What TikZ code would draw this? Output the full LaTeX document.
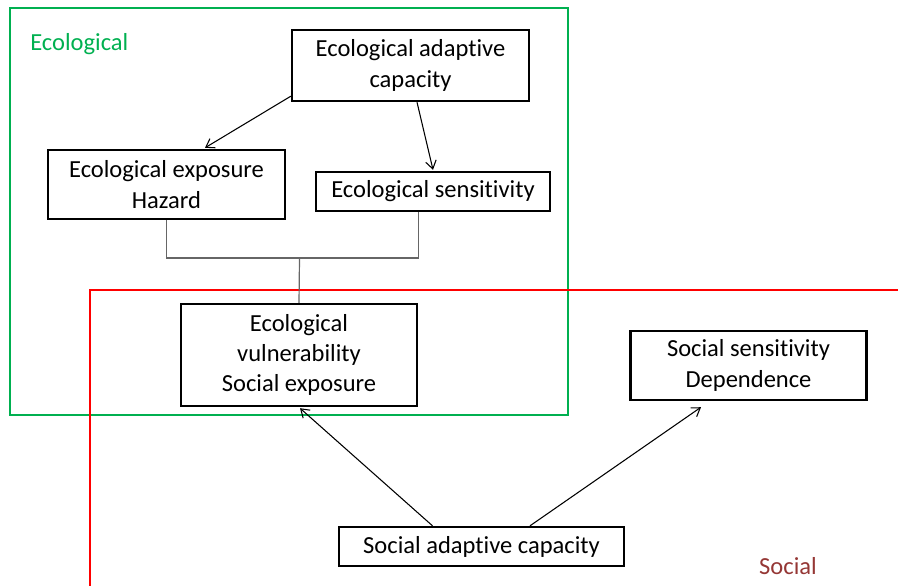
\documentclass[tikz,border=0pt]{standalone}
\usepackage{fontspec}
\setmainfont{Carlito}[Ligatures=NoCommon]
\usetikzlibrary{arrows.meta}
\definecolor{ecogreen}{HTML}{00B050}
\definecolor{socred}{HTML}{953735}
\begin{document}
\begin{tikzpicture}[>={Straight Barb[length=6pt,width=8pt]},x=0.75pt,y=-0.75pt,font=\fontsize{18.4}{22.8}\selectfont,
	hop/.style={draw,line width=1.8pt,align=center,inner sep=0pt},
	mui/.style={->,line width=0.8pt},
	noi/.style={black!60,line width=0.9pt}]
			\def\px{0.75pt}
			\useasboundingbox (0,0) rectangle (898,586);
			%Hai vùng:
			\draw[ecogreen,line width=1.6pt] (10,8) rectangle (568,415);
			\draw[red,line width=1.6pt] (898,290) -- (90,290) -- (90,586);
			\node[ecogreen,anchor=west,inner sep=0pt] (ECO) at (30,44) {Ecological};
			\node[socred,inner sep=0pt] (SOC) at (788,566) {Social};
			%Các hộp:
			\node[hop,minimum width=237*\px,minimum height=71*\px] (EAC) at (410.5,65.5) {Ecological adaptive\\capacity};
			\node[hop,minimum width=237*\px,minimum height=69*\px] (EEX) at (166.5,184.5) {Ecological exposure\\Hazard};
			\node[hop,minimum width=234*\px,minimum height=39*\px] (ESE) at (433,191.5) {Ecological sensitivity};
			\node[hop,minimum width=236*\px,minimum height=102*\px] (EVU) at (299,355) {Ecological\\vulnerability\\Social exposure};
			\node[hop,minimum width=236*\px,minimum height=69*\px] (SSE) at (748.5,365.5) {Social sensitivity\\Dependence};
			\node[hop,minimum width=285*\px,minimum height=39*\px] (SAC) at (481.5,546.5) {Social adaptive capacity};
			%Mũi tên:
			\draw[mui] ([yshift=6*\px]EAC.south west) -- ([xshift=38.5*\px,yshift=1*\px]EEX.north);
			\draw[mui] ([xshift=6.5*\px]EAC.south) -- ([yshift=1*\px]ESE.north);
			\draw[mui] ([xshift=-49*\px]SAC.north) -- ([xshift=1*\px,yshift=-1*\px]EVU.south);
			\draw[mui] ([xshift=48.5*\px]SAC.north) -- ([xshift=-47.5*\px,yshift=-6*\px]SSE.south);
			%Đường nối:
			\coordinate (J) at (299.5,258);
			\draw[noi] (EEX.south) |- (J) -| ([xshift=-14.5*\px]ESE.south);
			\draw[noi] (J) -- (EVU.north);
\end{tikzpicture}
\end{document}
